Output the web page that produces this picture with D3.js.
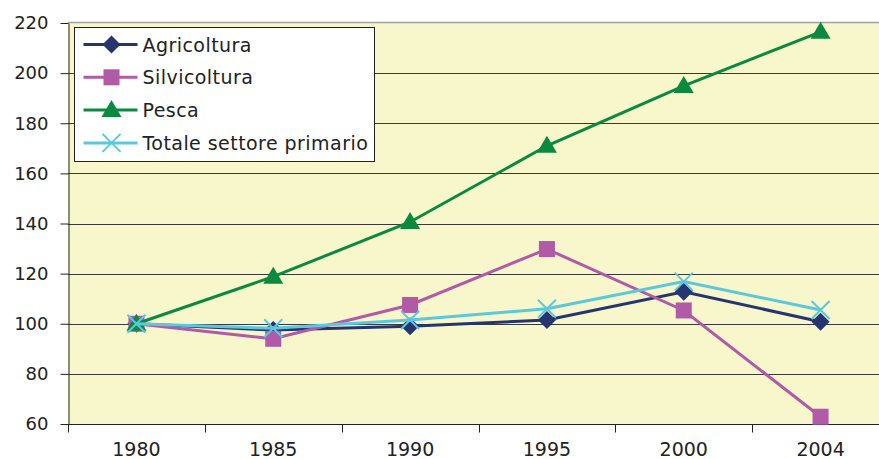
<!DOCTYPE html>
<html>
<head>
<meta charset="utf-8">
<script src="https://cdn.jsdelivr.net/npm/d3@7"></script>
<style>
  body { margin: 0; background: #fff; }
  svg { display: block; font-family: "DejaVu Sans", Verdana, sans-serif; }
</style>
</head>
<body>
<svg id="chart" width="879" height="459"></svg>
<script>
const years = ["1980", "1985", "1990", "1995", "2000", "2004"];
const agricoltura = [100, 97.5, 99, 101.5, 112.8, 100.8];
const silvicoltura = [100, 94, 107.5, 129.8, 105.3, 62.9];
const pesca = [100, 118.8, 140.6, 171, 194.9, 216.5];
const totale = [100, 98.2, 101.5, 106, 116.8, 105.5];
const yTicks = [60, 80, 100, 120, 140, 160, 180, 200, 220];

const series = [
    { name: "Agricoltura", values: agricoltura, color: "#243570", marker: "diamond" },
    { name: "Silvicoltura", values: silvicoltura, color: "#b05aa8", marker: "square" },
    { name: "Pesca", values: pesca, color: "#0b8a3f", marker: "triangle" },
    { name: "Totale settore primario", values: totale, color: "#5cc8dc", marker: "cross" }
];

const svg = d3.select("#chart");
const plotL = 68, plotR = 889, plotT = 23, plotB = 424;

const x = d3.scaleBand().domain(years).range([plotL, plotR]);
const y = d3.scaleLinear().domain([60, 220]).range([plotB, plotT]);

// plot background
svg.append("rect")
    .attr("x", plotL).attr("y", plotT - 1)
    .attr("width", 879 - plotL).attr("height", plotB - plotT + 1)
    .attr("fill", "#f8f6cb");

svg.append("line")
    .attr("x1", plotL).attr("x2", 879)
    .attr("y1", plotT - 0.5).attr("y2", plotT - 0.5)
    .attr("stroke", "#a0a0a0").attr("stroke-width", 1.5);

// gridlines
svg.append("g")
    .selectAll("line")
    .data(yTicks.slice(1, -1))
    .join("line")
    .attr("x1", plotL).attr("x2", 879)
    .attr("y1", d => Math.round(y(d)) + 0.5)
    .attr("y2", d => Math.round(y(d)) + 0.5)
    .attr("stroke", "#3a3a3a").attr("stroke-width", 1);

// y axis
const yAxis = svg.append("g")
    .attr("transform", "translate(" + (plotL + 0.5) + ",0)")
    .call(d3.axisLeft(y).tickValues(yTicks).tickSize(8).tickSizeOuter(0).tickPadding(12));
yAxis.select(".domain").attr("stroke", "#222");
yAxis.selectAll(".tick line").attr("stroke", "#222");
yAxis.selectAll("text")
    .attr("font-size", 18).attr("fill", "#222")
    .attr("font-family", "DejaVu Sans");

// x axis
const xAxis = svg.append("g")
    .attr("transform", "translate(0," + (plotB + 0.5) + ")");
xAxis.append("line")
    .attr("x1", plotL).attr("x2", 879)
    .attr("stroke", "#222");
xAxis.selectAll(".xtick")
    .data(years.map((d, i) => i))
    .join("line")
    .attr("class", "xtick")
    .attr("x1", i => Math.round(plotL + i * x.step()) + 0.5)
    .attr("x2", i => Math.round(plotL + i * x.step()) + 0.5)
    .attr("y1", 0).attr("y2", 8)
    .attr("stroke", "#222");
xAxis.selectAll(".xlabel")
    .data(years)
    .join("text")
    .attr("class", "xlabel")
    .attr("x", d => x(d) + x.bandwidth() / 2)
    .attr("y", 31)
    .attr("text-anchor", "middle")
    .attr("font-size", 19)
    .attr("fill", "#222")
    .text(d => d);

const cx = d => x(d) + x.bandwidth() / 2;

const drawMarker = (g, type, color) => {
    if (type === "diamond") {
        g.append("path").attr("d", "M0,-9L9,0L0,9L-9,0Z").attr("fill", color);
    } else if (type === "square") {
        g.append("rect").attr("x", -8).attr("y", -8).attr("width", 16).attr("height", 16).attr("fill", color);
    } else if (type === "triangle") {
        g.append("path").attr("d", "M0,-10L10,7L-10,7Z").attr("fill", color);
    } else if (type === "cross") {
        g.append("path").attr("d", "M-9,-9L9,9M-9,9L9,-9")
            .attr("stroke", color).attr("stroke-width", 2).attr("fill", "none");
    }
};

const line = d3.line()
    .x((d, i) => cx(years[i]))
    .y(d => y(d));

series.forEach(s => {
    svg.append("path")
        .datum(s.values)
        .attr("d", line)
        .attr("fill", "none")
        .attr("stroke", s.color)
        .attr("stroke-width", 3);
    s.values.forEach((v, i) => {
        const g = svg.append("g").attr("transform", "translate(" + cx(years[i]) + "," + y(v) + ")");
        drawMarker(g, s.marker, s.color);
    });
});

// legend
const legend = svg.append("g").attr("transform", "translate(74.5,27.5)");
legend.append("rect")
    .attr("width", 300).attr("height", 134)
    .attr("fill", "#ffffff").attr("stroke", "#222").attr("stroke-width", 1);

series.forEach((s, i) => {
    const row = legend.append("g").attr("transform", "translate(0," + (17 + i * 32.8) + ")");
    row.append("line")
        .attr("x1", 9).attr("x2", 63)
        .attr("stroke", s.color).attr("stroke-width", 3);
    const m = row.append("g").attr("transform", "translate(37,0)");
    drawMarker(m, s.marker, s.color);
    row.append("text")
        .attr("x", 68).attr("y", 7)
        .attr("font-size", 19)
        .attr("letter-spacing", 0.45)
        .attr("fill", "#222")
        .text(s.name);
});
</script>
</body>
</html>
